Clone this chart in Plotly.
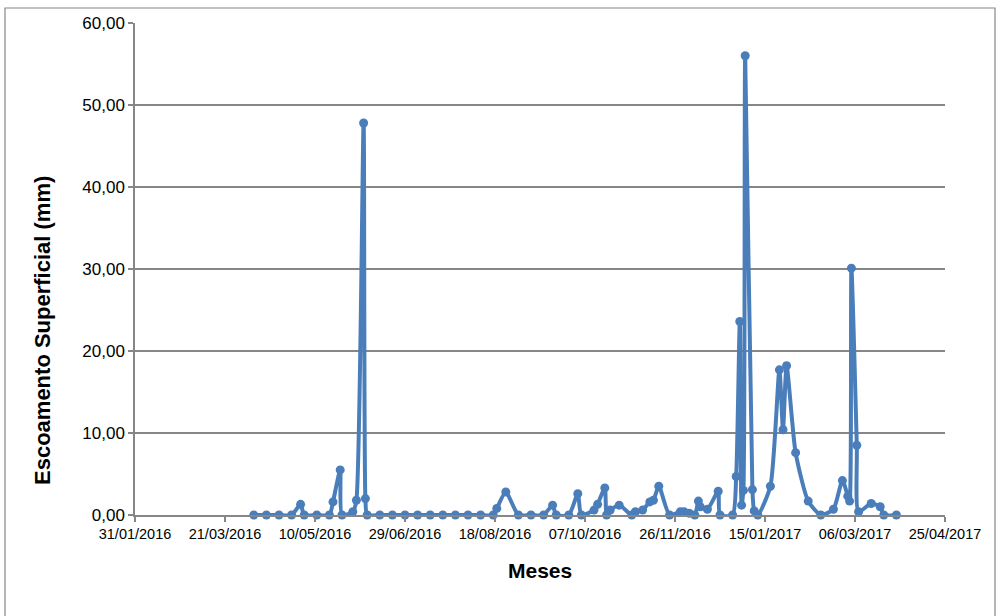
import plotly.graph_objects as go

dates = [
    "2016-04-06", "2016-04-13", "2016-04-20", "2016-04-27", "2016-05-02", "2016-05-04",
    "2016-05-11", "2016-05-18", "2016-05-20", "2016-05-24", "2016-05-25", "2016-05-31",
    "2016-06-02", "2016-06-06", "2016-06-07", "2016-06-08", "2016-06-15", "2016-06-22",
    "2016-06-29", "2016-07-06", "2016-07-13", "2016-07-20", "2016-07-27", "2016-08-03",
    "2016-08-10", "2016-08-17", "2016-08-19", "2016-08-24", "2016-08-31", "2016-09-07",
    "2016-09-14", "2016-09-19", "2016-09-21", "2016-09-28", "2016-10-03", "2016-10-05",
    "2016-10-12", "2016-10-14", "2016-10-18", "2016-10-19", "2016-10-21", "2016-10-26",
    "2016-11-02", "2016-11-04", "2016-11-08", "2016-11-12", "2016-11-14", "2016-11-17",
    "2016-11-23", "2016-11-29", "2016-12-01", "2016-12-04", "2016-12-07", "2016-12-09",
    "2016-12-10", "2016-12-14", "2016-12-20", "2016-12-21", "2016-12-28", "2016-12-30",
    "2017-01-01", "2017-01-02", "2017-01-03", "2017-01-04", "2017-01-08", "2017-01-09",
    "2017-01-11", "2017-01-18", "2017-01-23", "2017-01-25", "2017-01-27", "2017-02-01",
    "2017-02-08", "2017-02-15", "2017-02-22", "2017-02-27", "2017-03-02", "2017-03-03",
    "2017-03-04", "2017-03-07", "2017-03-08", "2017-03-15", "2017-03-20", "2017-03-22",
    "2017-03-29",
]
escoamento = [
    0, 0, 0, 0, 1.3, 0,
    0, 0, 1.6, 5.5, 0, 0.4,
    1.8, 47.8, 2.0, 0, 0, 0,
    0, 0, 0, 0, 0, 0,
    0, 0, 0.8, 2.8, 0, 0,
    0, 1.2, 0, 0, 2.6, 0,
    0.6, 1.3, 3.3, 0, 0.6, 1.2,
    0, 0.4, 0.6, 1.6, 1.8, 3.5,
    0, 0.4, 0.4, 0.2, 0, 1.7,
    1.0, 0.7, 2.9, 0, 0, 4.7,
    23.6, 1.2, 3.0, 56.0, 3.1, 0.5,
    0, 3.5, 17.7, 10.4, 18.2, 7.6,
    1.7, 0, 0.7, 4.2, 2.3, 1.7,
    30.1, 8.5, 0.4, 1.4, 1.0, 0,
    0,
]
y_ticks = [0, 10, 20, 30, 40, 50, 60]

BLUE = "#4a7ebb"
GRID = "#868686"
FONT = "Liberation Sans Narrow, Liberation Sans, Arial"

fig = go.Figure()
fig.add_trace(go.Scatter(
    x=dates, y=escoamento, mode="lines+markers",
    line=dict(color=BLUE, width=4, shape="spline", smoothing=0.6),
    marker=dict(color=BLUE, size=9),
    cliponaxis=False, showlegend=False,
))

L, R, T, B = 135, 53, 23, 101
W, H = 998, 616
pw, ph = W - L - R, H - T - B

fig.update_layout(
    width=W, height=H,
    margin=dict(l=L, r=R, t=T, b=B),
    paper_bgcolor="white", plot_bgcolor="white",
    separators=",.",
    font=dict(family=FONT, size=13, color="black"),
    xaxis=dict(
        type="date",
        range=["2016-01-31", "2017-04-25"],
        tick0="2016-01-31", dtick=50 * 86400000,
        tickformat="%d/%m/%Y",
        showgrid=False, zeroline=False,
        showline=True, linecolor=GRID, linewidth=1.5,
        ticks="outside", ticklen=5, tickcolor=GRID, tickwidth=1.5,
        tickfont=dict(family=FONT, size=14.5),
    ),
    yaxis=dict(
        range=[0, 60], tickvals=y_ticks, tickformat=".2f",
        showgrid=True, gridcolor=GRID, gridwidth=1.5,
        zeroline=False,
        showline=True, linecolor=GRID, linewidth=1.5,
        ticks="outside", ticklen=5, tickcolor=GRID, tickwidth=1.5,
        tickfont=dict(family=FONT, size=17),
    ),
    shapes=[dict(
        type="rect", xref="paper", yref="paper",
        x0=(5 - L) / pw, x1=(995 - L) / pw,
        y0=(T + ph - 630) / ph, y1=(T + ph - 8) / ph,
        line=dict(color=GRID, width=1.2), fillcolor="rgba(0,0,0,0)",
        layer="below",
    )],
    annotations=[
        dict(text="<b>Meses</b>", xref="paper", yref="paper",
             x=(540 - L) / pw, y=(T + ph - 570) / ph, showarrow=False,
             font=dict(family="Liberation Sans, Arial", size=21), xanchor="center", yanchor="middle"),
        dict(text="<b>Escoamento Superficial (mm)</b>", xref="paper", yref="paper",
             x=(42 - L) / pw, y=(T + ph - 331) / ph, showarrow=False, textangle=-90,
             font=dict(family="Liberation Sans, Arial", size=22), xanchor="center", yanchor="middle"),
    ],
)

fig.write_html("out.html")
